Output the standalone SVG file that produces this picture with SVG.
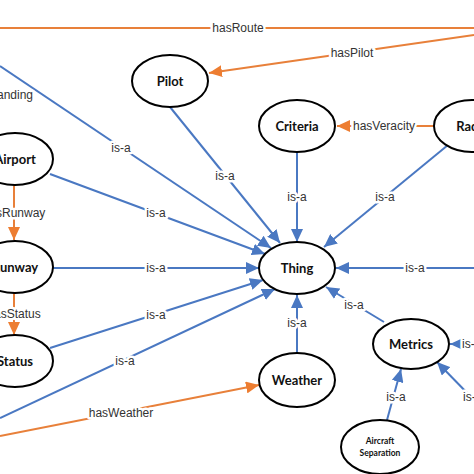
<svg xmlns="http://www.w3.org/2000/svg" width="474" height="474" viewBox="0 0 474 474">
<style>
.node ellipse{fill:#fff;stroke:#000;stroke-width:2}
.node text{font-family:Lato,"Liberation Sans",sans-serif;font-weight:bold;font-size:13px;fill:#111;text-anchor:middle}
.isa{stroke:#4a78c2;stroke-width:2;fill:none}
.rel{stroke:#e8803a;stroke-width:2;fill:none}
.lbl{font-family:"Liberation Sans",Arial,sans-serif;font-size:12px;fill:#333;stroke:#fff;stroke-width:5;paint-order:stroke;stroke-linejoin:round}
.mid{text-anchor:middle}
</style>
<defs>
<marker id="ab" markerUnits="userSpaceOnUse" markerWidth="13" markerHeight="12" refX="13" refY="6" orient="auto"><path d="M0,0 L13,6 L0,12 z" fill="#4a78c2"/></marker>
<marker id="ao" markerUnits="userSpaceOnUse" markerWidth="13" markerHeight="12" refX="13" refY="6" orient="auto"><path d="M0,0 L13,6 L0,12 z" fill="#ed7d31"/></marker>
</defs>
<rect width="474" height="474" fill="#fff"/>
<g id="connectors">
<line class="rel" x1="0" y1="28" x2="474" y2="28"/>
<line class="rel" x1="474" y1="35" x2="209" y2="73" marker-end="url(#ao)"/>
<line class="rel" x1="434" y1="126" x2="337" y2="126" marker-end="url(#ao)"/>
<line class="rel" x1="14" y1="185" x2="14" y2="240" marker-end="url(#ao)"/>
<line class="rel" x1="14" y1="293" x2="14" y2="335" marker-end="url(#ao)"/>
<line class="rel" x1="0" y1="436" x2="259" y2="385" marker-end="url(#ao)"/>
<line class="isa" x1="170" y1="107" x2="280" y2="243" marker-end="url(#ab)"/>
<line class="isa" x1="0" y1="66" x2="271" y2="248" marker-end="url(#ab)"/>
<line class="isa" x1="50" y1="174" x2="265" y2="254" marker-end="url(#ab)"/>
<line class="isa" x1="53" y1="268" x2="259" y2="268" marker-end="url(#ab)"/>
<line class="isa" x1="50" y1="348" x2="263" y2="280" marker-end="url(#ab)"/>
<line class="isa" x1="0" y1="418" x2="275" y2="289" marker-end="url(#ab)"/>
<line class="isa" x1="297" y1="152" x2="297" y2="242" marker-end="url(#ab)"/>
<line class="isa" x1="448" y1="145" x2="324" y2="247" marker-end="url(#ab)"/>
<line class="isa" x1="474" y1="268" x2="336" y2="268" marker-end="url(#ab)"/>
<line class="isa" x1="384" y1="322" x2="326" y2="287" marker-end="url(#ab)"/>
<line class="isa" x1="297" y1="353" x2="297" y2="295" marker-end="url(#ab)"/>
<line class="isa" x1="474" y1="344" x2="450" y2="344" marker-end="url(#ab)"/>
<line class="isa" x1="474" y1="400" x2="437" y2="362" marker-end="url(#ab)"/>
<line class="isa" x1="387" y1="420" x2="401" y2="369" marker-end="url(#ab)"/>
<text class="lbl mid" x="238" y="32">hasRoute</text>
<text class="lbl mid" x="352" y="57">hasPilot</text>
<text class="lbl mid" x="384" y="130">hasVeracity</text>
<text class="lbl" x="33" y="99" text-anchor="end">hasLanding</text>
<text class="lbl mid" x="14" y="217">hasRunway</text>
<text class="lbl mid" x="14" y="318">hasStatus</text>
<text class="lbl mid" x="121" y="417">hasWeather</text>
<text class="lbl mid" x="121" y="152">is-a</text>
<text class="lbl mid" x="225" y="180">is-a</text>
<text class="lbl mid" x="156" y="217">is-a</text>
<text class="lbl mid" x="156" y="272">is-a</text>
<text class="lbl mid" x="156" y="319">is-a</text>
<text class="lbl mid" x="125" y="365">is-a</text>
<text class="lbl mid" x="297" y="201">is-a</text>
<text class="lbl mid" x="385" y="201">is-a</text>
<text class="lbl mid" x="415" y="272">is-a</text>
<text class="lbl mid" x="354" y="309">is-a</text>
<text class="lbl mid" x="297" y="327">is-a</text>
<text class="lbl" x="462" y="348">is-a</text>
<text class="lbl" x="463" y="401">is-a</text>
<text class="lbl mid" x="396" y="401">is-a</text>
</g>
<g id="Pilot" class="node"><ellipse cx="170" cy="81" rx="38" ry="26"/><text x="170" y="85.5">Pilot</text></g>
<g id="Criteria" class="node"><ellipse cx="297" cy="126" rx="38" ry="26"/><text x="297" y="130.5">Criteria</text></g>
<g id="Radar" class="node"><ellipse cx="472" cy="126" rx="38" ry="26"/><text x="473" y="130.5">Radar</text></g>
<g id="Airport" class="node"><ellipse cx="15" cy="159" rx="38" ry="26"/><text x="15" y="163.5">Airport</text></g>
<g id="Runway" class="node"><ellipse cx="15" cy="267" rx="38" ry="26"/><text x="15" y="271.5">Runway</text></g>
<g id="Status" class="node"><ellipse cx="15" cy="361" rx="38" ry="26"/><text x="15" y="365.5">Status</text></g>
<g id="Thing" class="node"><ellipse cx="297" cy="268" rx="38" ry="26"/><text x="297" y="272.5">Thing</text></g>
<g id="Weather" class="node"><ellipse cx="297" cy="380" rx="38" ry="27"/><text x="297" y="384.5">Weather</text></g>
<g id="Metrics" class="node"><ellipse cx="411" cy="344" rx="38" ry="25"/><text x="411" y="348.5">Metrics</text></g>
<g id="AircraftSeparation" class="node"><ellipse cx="380" cy="447" rx="39" ry="27"/><text x="380" y="444" style="font-size:8.5px">Aircraft</text><text x="380" y="456" style="font-size:8.5px">Separation</text></g>
</svg>
